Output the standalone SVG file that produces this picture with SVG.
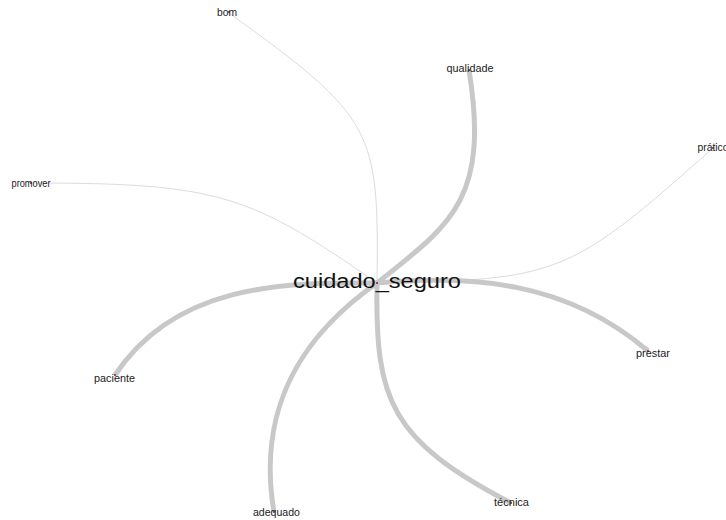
<svg xmlns="http://www.w3.org/2000/svg" width="726" height="520" viewBox="0 0 726 520">
<style>
.thick{fill:none;stroke:#c8c8c8;stroke-width:5;stroke-linecap:butt}
.thin{fill:none;stroke:#dcdcdc;stroke-width:1}
.lbl{font-family:"Liberation Sans",Arial,sans-serif;font-size:10px;fill:#222;text-anchor:middle}
.big{font-family:"Liberation Sans",Arial,sans-serif;font-size:20px;fill:#111;text-anchor:middle}
.dot{fill:#8b1a1a}
</style>
<rect width="726" height="520" fill="#fff"/>
<g id="edges">
<path class="thin" d="M377,283 C379,130 375,118 229,13"/>
<path class="thin" d="M377,283 C250,195 220,183 31,183"/>
<path class="thin" d="M377,283 C560,280 570,275 713,148"/>
<path class="thick" d="M377,283 C450,225 490,200 469,70"/>
<path class="thick" d="M377,283 C470,275 565,280 648,351"/>
<path class="thick" d="M377,283 C280,282 175,285 115,375"/>
<path class="thick" d="M377,283 C310,330 255,400 274,512"/>
<path class="thick" d="M377,283 C375,400 390,440 511,503"/>
</g>
<g id="n_bom"><circle class="dot" cx="229" cy="12" r="1"/><text class="lbl" x="227" y="15.5" textLength="20" lengthAdjust="spacingAndGlyphs">bom</text></g>
<g id="n_promover"><circle class="dot" cx="31" cy="183" r="1"/><text class="lbl" x="31" y="186.5" textLength="39" lengthAdjust="spacingAndGlyphs">promover</text></g>
<g id="n_pratico"><circle class="dot" cx="713" cy="148" r="1"/><text class="lbl" x="713" y="151" textLength="31" lengthAdjust="spacingAndGlyphs">prático</text></g>
<g id="n_qualidade"><circle class="dot" cx="469" cy="70" r="1"/><text class="lbl" x="470" y="72" textLength="47" lengthAdjust="spacingAndGlyphs">qualidade</text></g>
<g id="n_prestar"><circle class="dot" cx="648" cy="351" r="1"/><text class="lbl" x="653" y="356.5" textLength="34" lengthAdjust="spacingAndGlyphs">prestar</text></g>
<g id="n_paciente"><circle class="dot" cx="115" cy="375" r="1"/><text class="lbl" x="114.5" y="381.5" textLength="41" lengthAdjust="spacingAndGlyphs">paciente</text></g>
<g id="n_adequado"><circle class="dot" cx="274" cy="512" r="1"/><text class="lbl" x="276.5" y="516" textLength="47" lengthAdjust="spacingAndGlyphs">adequado</text></g>
<g id="n_tecnica"><circle class="dot" cx="511" cy="503" r="1"/><text class="lbl" x="511.5" y="506" textLength="35" lengthAdjust="spacingAndGlyphs">técnica</text></g>
<g id="n_cuidado_seguro"><circle class="dot" cx="377" cy="283" r="1"/><text class="big" x="377" y="287.5" textLength="168" lengthAdjust="spacingAndGlyphs">cuidado_seguro</text></g>
</svg>
